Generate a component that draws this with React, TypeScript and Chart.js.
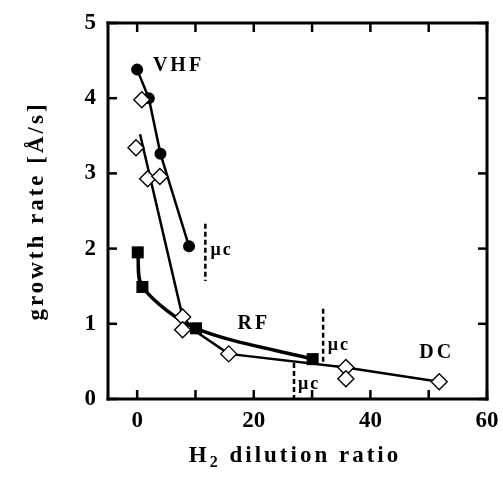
import React, { useEffect, useRef } from "react";
import { Chart, registerables } from "chart.js";

Chart.register(...registerables);

// VHF (filled circles)
const vhfX = [0, 2, 4, 8.9];
const vhfY = [4.38, 4.0, 3.26, 2.03];
// open diamonds
const diaX = [-0.2, 0.8, 1.8, 3.9, 7.8, 7.8, 15.7, 35.8, 35.8, 51.8];
const diaY = [3.34, 3.98, 2.93, 2.96, 1.09, 0.92, 0.6, 0.42, 0.27, 0.23];
// RF (filled squares)
const rfX = [0.1, 0.9, 10.1, 30.1];
const rfY = [1.95, 1.49, 0.94, 0.53];
// fitted line through diamonds
const fitX = [0.5, 7.8, 10.0, 15.7, 35.8, 51.8];
const fitY = [3.52, 1.09, 0.9, 0.6, 0.42, 0.23];
// μc markers (dashed verticals)
const mc1X = [11.7, 11.7];
const mc1Y = [2.33, 1.57];
const mc2X = [31.9, 31.9];
const mc2Y = [1.2, 0.47];
const mc3X = [26.9, 26.9];
const mc3Y = [0.48, 0.0];

const xTicks = [0, 20, 40, 60];
const xMinorTicks = [0, 10, 20, 30, 40, 50, 60];
const yTicks = [0, 1, 2, 3, 4, 5];

const labelTexts = ["VHF", "RF", "DC", "μc", "μc", "μc"];
const labelX = [2.7, 17.2, 48.4, 12.6, 32.7, 27.6];
const labelY = [4.43, 1.0, 0.61, 1.98, 0.72, 0.2];
const labelSize = [20, 20, 20, 18, 18, 18];

const FONT = "'Liberation Serif', 'Times New Roman', serif";

const pts = (xs: number[], ys: number[]) => xs.map((x, i) => ({ x, y: ys[i] }));

export default function App() {
  const ref = useRef<HTMLCanvasElement>(null);
  useEffect(() => {
    if (!ref.current) return;
    const decor = {
      id: "decor",
      afterDraw(chart: any) {
        const ctx = chart.ctx as CanvasRenderingContext2D;
        const { left, right, top, bottom } = chart.chartArea;
        const xs = chart.scales.x;
        const ys = chart.scales.y;
        ctx.save();
        ctx.globalAlpha = 1;
        ctx.globalCompositeOperation = "source-over";
        ctx.fillStyle = "#000000";
        const fw = 3;
        // frame
        ctx.fillRect(left - fw / 2, top - fw / 2, right - left + fw, fw);
        ctx.fillRect(left - fw / 2, bottom - fw / 2, right - left + fw, fw);
        ctx.fillRect(left - fw / 2, top - fw / 2, fw, bottom - top + fw);
        ctx.fillRect(right - fw / 2, top - fw / 2, fw, bottom - top + fw);
        // ticks (inward)
        const tl = 9;
        const tw = 2.5;
        xMinorTicks.forEach((v) => {
          const px = xs.getPixelForValue(v);
          ctx.fillRect(px - tw / 2, bottom - tl, tw, tl);
          ctx.fillRect(px - tw / 2, top, tw, tl);
        });
        yTicks.forEach((v) => {
          const py = ys.getPixelForValue(v);
          ctx.fillRect(left, py - tw / 2, tl, tw);
          ctx.fillRect(right - tl, py - tw / 2, tl, tw);
        });

        // annotations
        ctx.textBaseline = "middle";
        ctx.textAlign = "left";
        labelTexts.forEach((t, i) => {
          ctx.font = `bold ${labelSize[i]}px ${FONT}`;
          (ctx as any).letterSpacing = i < 3 ? "3px" : "2px";
          ctx.fillText(t, xs.getPixelForValue(labelX[i]), ys.getPixelForValue(labelY[i]));
        });

        // x title with subscript
        (ctx as any).letterSpacing = "3px";
        ctx.textBaseline = "alphabetic";
        ctx.textAlign = "left";
        const big = `bold 23px ${FONT}`;
        const small = `bold 16px ${FONT}`;
        ctx.font = big;
        const wH = ctx.measureText("H").width;
        const rest = " dilution ratio";
        const wR = ctx.measureText(rest).width;
        ctx.font = small;
        const w2 = ctx.measureText("2").width;
        const total = wH + w2 + wR;
        const x0 = 295 - total / 2;
        const by = 462;
        ctx.font = big;
        ctx.fillText("H", x0, by);
        ctx.font = small;
        ctx.fillText("2", x0 + wH, by + 5);
        ctx.font = big;
        ctx.fillText(rest, x0 + wH + w2, by);

        // y title
        ctx.save();
        ctx.translate(43, 211);
        ctx.rotate(-Math.PI / 2);
        ctx.textAlign = "left";
        (ctx as any).letterSpacing = "3px";
        ctx.font = big;
        const yt = "growth rate [Å/s]";
        const wy = ctx.measureText(yt).width;
        ctx.fillText(yt, -wy / 2, 0);
        ctx.restore();
        ctx.restore();
      },
    };

    const dashed = (xs: number[], ys: number[]) => ({
      data: pts(xs, ys),
      showLine: true,
      borderColor: "#000",
      borderWidth: 2.5,
      borderDash: [5, 3],
      pointRadius: 0,
      order: 5,
    });

    const chart = new Chart(ref.current, {
      type: "scatter",
      data: {
        datasets: [
          {
            data: pts(fitX, fitY),
            showLine: true,
            borderColor: "#000",
            borderWidth: 2.5,
            pointRadius: 0,
            order: 4,
          },
          {
            data: pts(rfX, rfY),
            showLine: true,
            tension: 0.3,
            borderColor: "#000",
            backgroundColor: "#000",
            borderWidth: 3.5,
            pointStyle: "rect",
            pointRadius: 8.5,
            pointBorderWidth: 0,
            order: 3,
          },
          {
            data: pts(vhfX, vhfY),
            showLine: true,
            borderColor: "#000",
            backgroundColor: "#000",
            borderWidth: 2.5,
            pointStyle: "circle",
            pointRadius: 6,
            pointBorderWidth: 0,
            order: 2,
          },
          {
            data: pts(diaX, diaY),
            showLine: false,
            borderColor: "#000",
            backgroundColor: "#fff",
            pointStyle: "rectRot",
            pointRadius: 8,
            pointBorderWidth: 1.4,
            order: 1,
          },
          dashed(mc1X, mc1Y),
          dashed(mc2X, mc2Y),
          dashed(mc3X, mc3Y),
        ] as any,
      },
      options: {
        animation: false,
        responsive: false,
        layout: { padding: { left: 0, right: 16, top: 23, bottom: 0 } },
        plugins: { legend: { display: false }, tooltip: { enabled: false } },
        scales: {
          x: {
            type: "linear",
            min: -5,
            max: 60,
            grid: { display: false },
            border: { display: false },
            afterBuildTicks: (s: any) => {
              s.ticks = xTicks.map((v) => ({ value: v }));
            },
            afterFit: (s: any) => {
              s.height = 78;
            },
            ticks: {
              color: "#000",
              padding: 0,
              maxRotation: 0,
              font: { family: FONT, size: 23, weight: "bold" },
            },
          },
          y: {
            type: "linear",
            min: 0,
            max: 5,
            grid: { display: false },
            border: { display: false },
            afterBuildTicks: (s: any) => {
              s.ticks = yTicks.map((v) => ({ value: v }));
            },
            afterFit: (s: any) => {
              s.width = 108;
            },
            ticks: {
              color: "#000",
              padding: 4,
              font: { family: FONT, size: 23, weight: "bold" },
            },
          },
        },
      } as any,
      plugins: [decor],
    });
    return () => chart.destroy();
  }, []);
  return (
    <div style={{ position: "fixed", left: 0, top: 0, width: 503, height: 477, background: "#fff" }}>
      <canvas ref={ref} width={503} height={477} style={{ width: 503, height: 477 }} />
    </div>
  );
}
